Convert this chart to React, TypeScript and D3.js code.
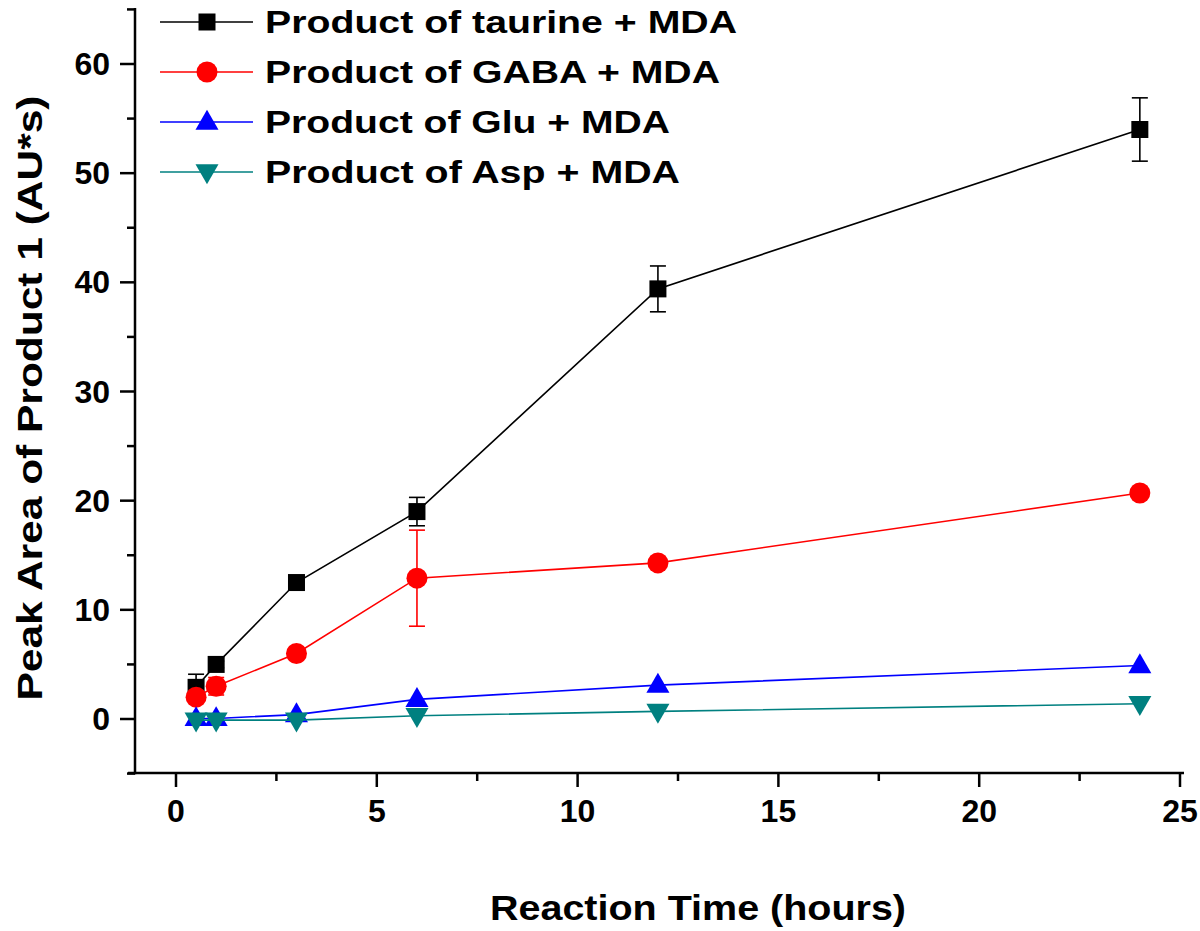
import React from "react";
import * as d3 from "d3";

const times = [0.5, 1, 3, 6, 12, 24];
const taurine = [2.9, 5.0, 12.5, 19.0, 39.4, 54.0];
const taurineErr = [1.2, 0.3, 0.5, 1.3, 2.1, 2.9];
const gaba = [2.0, 3.0, 6.0, 12.9, 14.3, 20.7];
const gabaErr = [0.2, 0.8, 0.3, 4.4, 0.3, 0.3];
const glu = [0.05, 0.05, 0.4, 1.8, 3.1, 4.9];
const asp = [-0.1, -0.1, -0.1, 0.3, 0.7, 1.4];
const xTicks = [0, 5, 10, 15, 20, 25];
const yTicks = [0, 10, 20, 30, 40, 50, 60];
const legendLabels = [
  "Product of taurine + MDA",
  "Product of GABA + MDA",
  "Product of Glu + MDA",
  "Product of Asp + MDA",
];

const W = 1200;
const H = 931;
const FONT = "'Liberation Sans', Arial, Helvetica, sans-serif";

export default function App() {
  const x = d3.scaleLinear().domain([0, 25]).range([176, 1180]);
  const y = d3.scaleLinear().domain([0, 60]).range([719, 64]);
  const yBottom = 773;
  const xLeft = 135;

  const series = [
    { vals: taurine, err: taurineErr, color: "#000000", shape: "square" },
    { vals: gaba, err: gabaErr, color: "#ff0000", shape: "circle" },
    { vals: glu, err: null, color: "#0000ff", shape: "up" },
    { vals: asp, err: null, color: "#008080", shape: "down" },
  ];

  const line = d3
    .line<number>()
    .x((_, i) => x(times[i]))
    .y((d) => y(d));

  const marker = (shape: string, cx: number, cy: number, color: string, key: string) => {
    if (shape === "square") {
      const s = 17;
      return <rect key={key} x={cx - s / 2} y={cy - s / 2} width={s} height={s} fill={color} />;
    }
    if (shape === "circle") {
      return <circle key={key} cx={cx} cy={cy} r={10.5} fill={color} />;
    }
    const sym = d3.symbol().type(d3.symbolTriangle).size(230)();
    return (
      <path
        key={key}
        d={sym || ""}
        fill={color}
        transform={`translate(${cx},${cy + (shape === "up" ? 1 : -1)}) rotate(${shape === "down" ? 180 : 0})`}
      />
    );
  };

  const xMinor = d3.range(0, 25.01, 2.5).filter((v) => !xTicks.includes(v));
  const yMinor = d3.range(-5, 65.01, 5).filter((v) => !yTicks.includes(v));

  return (
    <div style={{ position: "absolute", left: 0, top: 0 }}>
      <svg width={W} height={H} style={{ display: "block", background: "#fff" }}>
        {/* axes */}
        <line x1={xLeft} x2={xLeft} y1={8} y2={yBottom + 1.25} stroke="#000" strokeWidth={2.5} />
        <line x1={128} x2={1184} y1={yBottom} y2={yBottom} stroke="#000" strokeWidth={2.5} />
        {xTicks.map((t) => (
          <g key={"xt" + t}>
            <line x1={x(t)} x2={x(t)} y1={yBottom} y2={yBottom + 14} stroke="#000" strokeWidth={2.5} />
            <text x={x(t)} y={822} textAnchor="middle" fontFamily={FONT} fontWeight="bold" fontSize={32}>
              {t}
            </text>
          </g>
        ))}
        {xMinor.map((t) => (
          <line key={"xm" + t} x1={x(t)} x2={x(t)} y1={yBottom} y2={yBottom + 8} stroke="#000" strokeWidth={2.5} />
        ))}
        {yTicks.map((t) => (
          <g key={"yt" + t}>
            <line x1={xLeft - 15} x2={xLeft} y1={y(t)} y2={y(t)} stroke="#000" strokeWidth={2.5} />
            <text x={110} y={y(t) + 11} textAnchor="end" fontFamily={FONT} fontWeight="bold" fontSize={32}>
              {t}
            </text>
          </g>
        ))}
        {yMinor.map((t) => (
          <line key={"ym" + t} x1={xLeft - 8} x2={xLeft} y1={y(t)} y2={y(t)} stroke="#000" strokeWidth={2.5} />
        ))}

        {/* axis titles */}
        <text
          x={698}
          y={920}
          textAnchor="middle"
          fontFamily={FONT}
          fontWeight="bold"
          fontSize={35}
          textLength={416}
          lengthAdjust="spacingAndGlyphs"
        >
          Reaction Time (hours)
        </text>
        <text
          transform={`translate(42,398) rotate(-90)`}
          textAnchor="middle"
          fontFamily={FONT}
          fontWeight="bold"
          fontSize={35}
          textLength={605}
          lengthAdjust="spacingAndGlyphs"
        >
          Peak Area of Product 1 (AU*s)
        </text>

        {/* series */}
        {series.map((s, si) => (
          <g key={"s" + si}>
            <path d={line(s.vals) || ""} fill="none" stroke={s.color} strokeWidth={1.6} />
            {s.err &&
              s.vals.map((v, i) => {
                const e = s.err![i];
                const cx = x(times[i]);
                return (
                  <g key={"e" + i} stroke={s.color} strokeWidth={1.6}>
                    <line x1={cx} x2={cx} y1={y(v - e)} y2={y(v + e)} />
                    <line x1={cx - 8} x2={cx + 8} y1={y(v - e)} y2={y(v - e)} />
                    <line x1={cx - 8} x2={cx + 8} y1={y(v + e)} y2={y(v + e)} />
                  </g>
                );
              })}
            {s.vals.map((v, i) => marker(s.shape, x(times[i]), y(v), s.color, "m" + i))}
          </g>
        ))}

        {/* legend */}
        {series.map((s, i) => {
          const ly = 22 + i * 50;
          return (
            <g key={"lg" + i}>
              <line x1={160} x2={253} y1={ly} y2={ly} stroke={s.color} strokeWidth={1.6} />
              {marker(s.shape, 207, ly, s.color, "lm" + i)}
              <text
                x={265}
                y={ly + 11}
                fontFamily={FONT}
                fontWeight="bold"
                fontSize={32}
                textLength={[472, 455, 405, 415][i]}
                lengthAdjust="spacingAndGlyphs"
              >
                {legendLabels[i]}
              </text>
            </g>
          );
        })}
      </svg>
    </div>
  );
}
